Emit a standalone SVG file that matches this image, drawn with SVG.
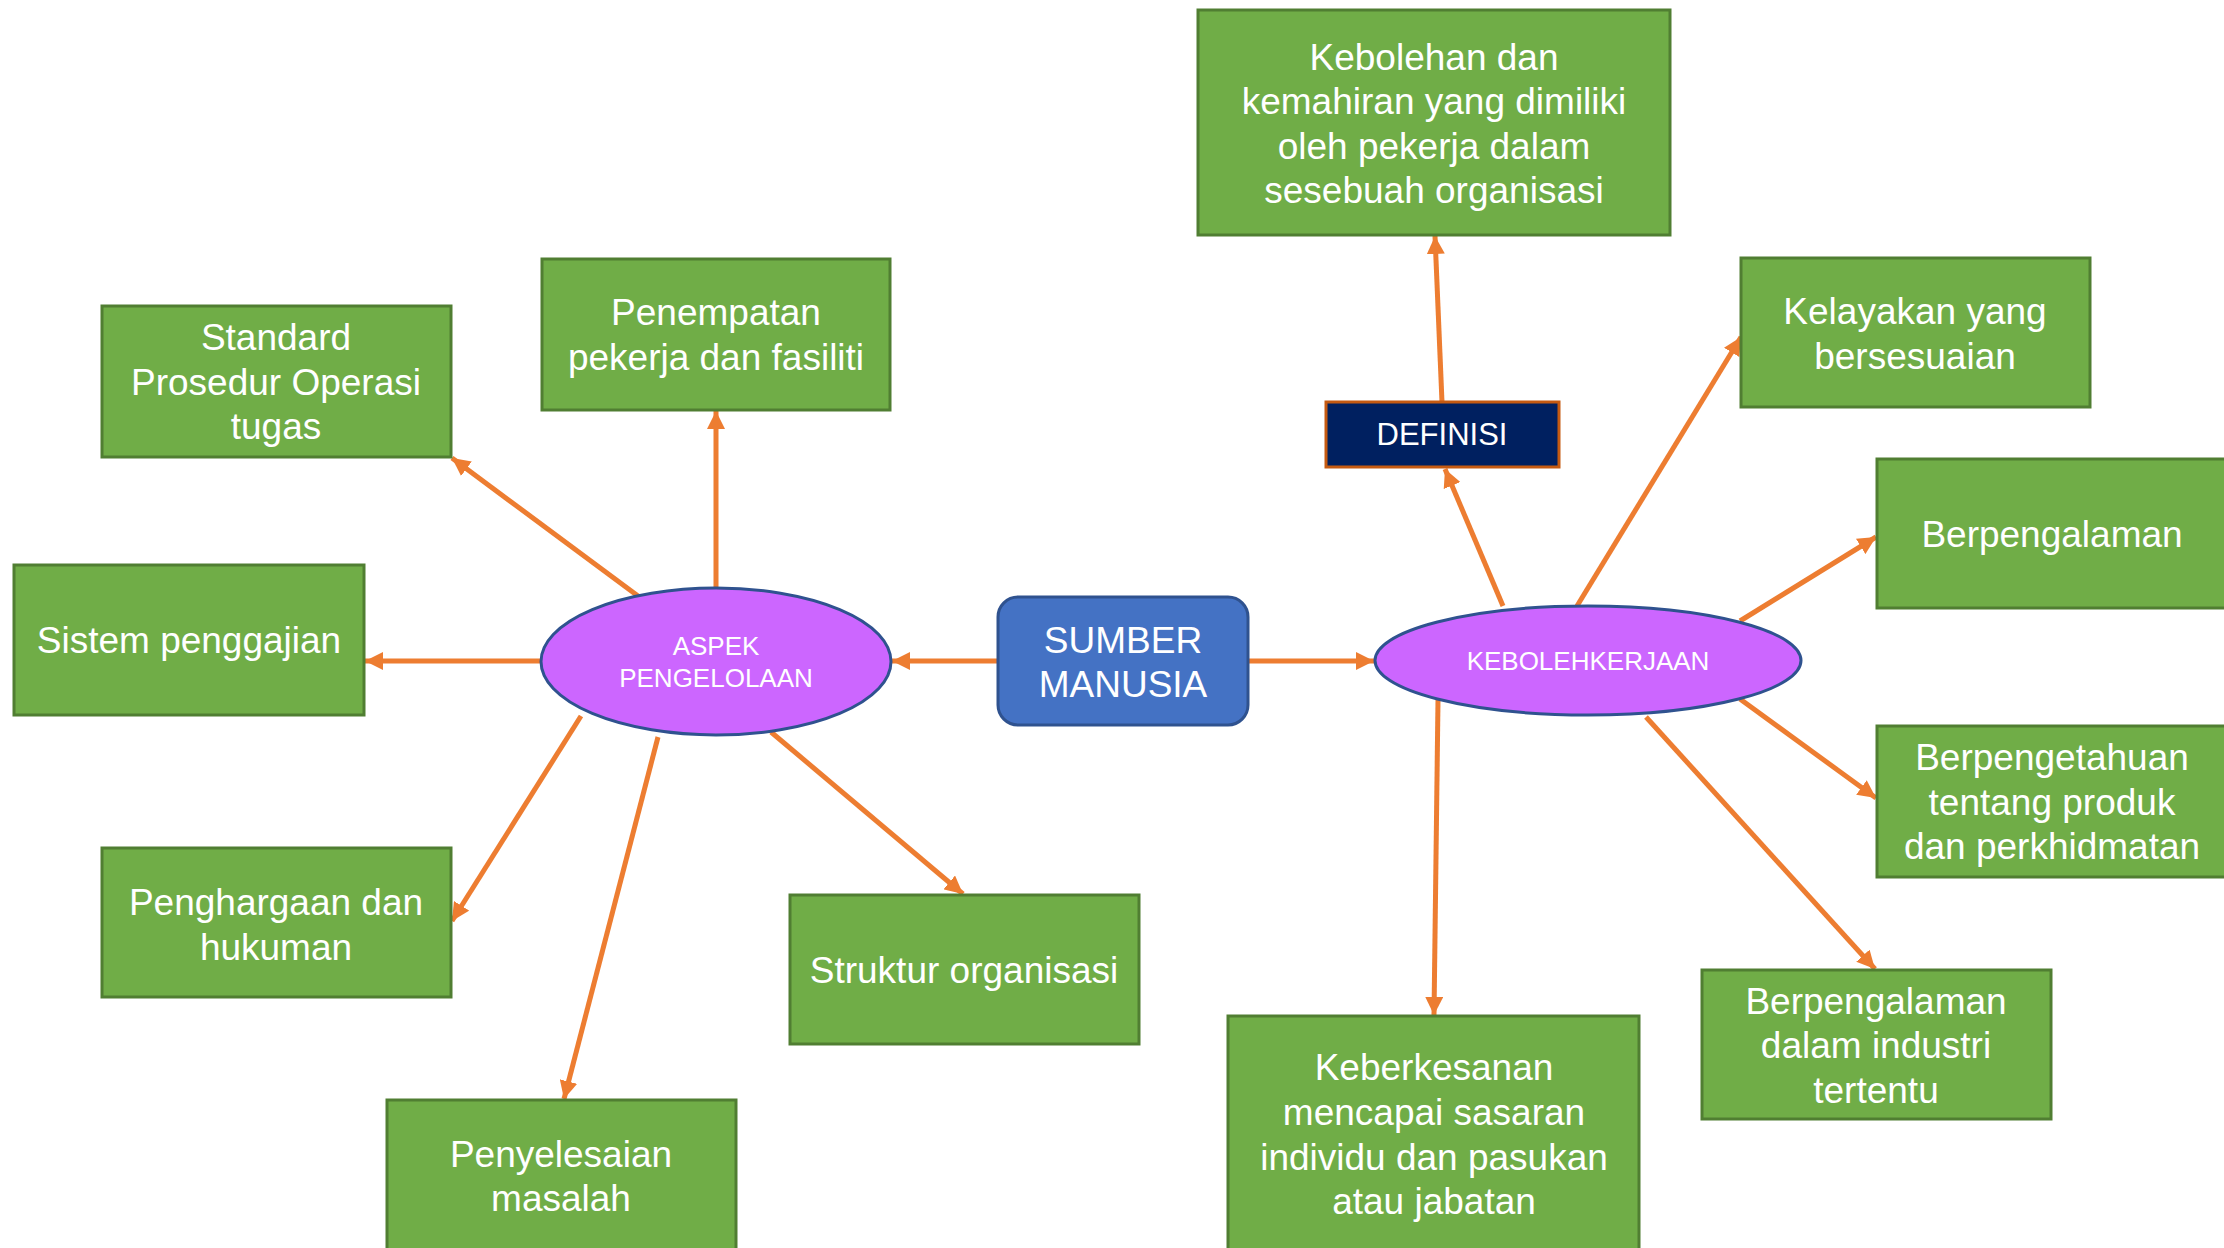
<svg xmlns="http://www.w3.org/2000/svg" width="2224" height="1248" viewBox="0 0 2224 1248">
<style>
text{font-family:"Liberation Sans",Arial,sans-serif;fill:#fff;text-anchor:middle}
.g{fill:#70AD47;stroke:#507E32;stroke-width:3}
.e{fill:#CC66FF;stroke:#2F528F;stroke-width:3}
.t37{font-size:37px}
.t26{font-size:26px}
.c line{stroke:#ED7D31;stroke-width:5;marker-end:url(#ah)}
</style>
<defs>
<marker id="ah" viewBox="0 0 10 10" refX="10" refY="5" markerWidth="3.6" markerHeight="3.6" orient="auto">
<path d="M0,0 L10,5 L0,10 z" fill="#ED7D31"/>
</marker>
</defs>
<rect width="2224" height="1248" fill="#fff"/>
<g class="c" id="connectors">
<line x1="716" y1="588" x2="716" y2="411"/>
<line x1="638" y1="596" x2="452" y2="458"/>
<line x1="541" y1="661" x2="365" y2="661"/>
<line x1="581" y1="716" x2="452" y2="921"/>
<line x1="658" y1="737" x2="564" y2="1099"/>
<line x1="771" y1="732" x2="963" y2="894"/>
<line x1="998" y1="661" x2="892" y2="661"/>
<line x1="1248" y1="661" x2="1374" y2="661"/>
<line x1="1503" y1="606" x2="1445" y2="469"/>
<line x1="1442" y1="402" x2="1435" y2="236"/>
<line x1="1577" y1="606" x2="1741" y2="337"/>
<line x1="1740" y1="621" x2="1876" y2="537"/>
<line x1="1740" y1="699" x2="1876" y2="798"/>
<line x1="1646" y1="717" x2="1875" y2="969"/>
<line x1="1438" y1="700" x2="1434" y2="1015"/>
</g>
<g id="sumber">
<rect x="998" y="597" width="250" height="128" rx="20" fill="#4472C4" stroke="#2F528F" stroke-width="3"/>
<text class="t37" x="1123" y="653">SUMBER</text>
<text class="t37" x="1123" y="697">MANUSIA</text>
</g>
<g id="aspek">
<ellipse class="e" cx="716" cy="661.5" rx="175" ry="73.5"/>
<text class="t26" x="716" y="655">ASPEK</text>
<text class="t26" x="716" y="687">PENGELOLAAN</text>
</g>
<g id="kebolehkerjaan">
<ellipse class="e" cx="1588" cy="660.5" rx="213" ry="54.5"/>
<text class="t26" x="1588" y="670">KEBOLEHKERJAAN</text>
</g>
<g id="definisi">
<rect x="1326" y="402" width="233" height="65" fill="#002060" stroke="#C55A11" stroke-width="3"/>
<text x="1442" y="445" font-size="31px">DEFINISI</text>
</g>
<g id="kebolehan">
<rect class="g" x="1198" y="10" width="472" height="225"/>
<text class="t37" x="1434" y="70">Kebolehan dan</text>
<text class="t37" x="1434" y="114">kemahiran yang dimiliki</text>
<text class="t37" x="1434" y="159">oleh pekerja dalam</text>
<text class="t37" x="1434" y="203">sesebuah organisasi</text>
</g>
<g id="penempatan">
<rect class="g" x="542" y="259" width="348" height="151"/>
<text class="t37" x="716" y="325">Penempatan</text>
<text class="t37" x="716" y="370">pekerja dan fasiliti</text>
</g>
<g id="standard">
<rect class="g" x="102" y="306" width="349" height="151"/>
<text class="t37" x="276" y="350">Standard</text>
<text class="t37" x="276" y="395">Prosedur Operasi</text>
<text class="t37" x="276" y="439">tugas</text>
</g>
<g id="sistem">
<rect class="g" x="14" y="565" width="350" height="150"/>
<text class="t37" x="189" y="653">Sistem penggajian</text>
</g>
<g id="penghargaan">
<rect class="g" x="102" y="848" width="349" height="149"/>
<text class="t37" x="276" y="915">Penghargaan dan</text>
<text class="t37" x="276" y="960">hukuman</text>
</g>
<g id="penyelesaian">
<rect class="g" x="387" y="1100" width="349" height="152"/>
<text class="t37" x="561" y="1167">Penyelesaian</text>
<text class="t37" x="561" y="1211">masalah</text>
</g>
<g id="struktur">
<rect class="g" x="790" y="895" width="349" height="149"/>
<text class="t37" x="964" y="983">Struktur organisasi</text>
</g>
<g id="kelayakan">
<rect class="g" x="1741" y="258" width="349" height="149"/>
<text class="t37" x="1915" y="324">Kelayakan yang</text>
<text class="t37" x="1915" y="369">bersesuaian</text>
</g>
<g id="berpengalaman">
<rect class="g" x="1877" y="459" width="350" height="149"/>
<text class="t37" x="2052" y="547">Berpengalaman</text>
</g>
<g id="berpengetahuan">
<rect class="g" x="1877" y="726" width="350" height="151"/>
<text class="t37" x="2052" y="770">Berpengetahuan</text>
<text class="t37" x="2052" y="815">tentang produk</text>
<text class="t37" x="2052" y="859">dan perkhidmatan</text>
</g>
<g id="industri">
<rect class="g" x="1702" y="970" width="349" height="149"/>
<text class="t37" x="1876" y="1014">Berpengalaman</text>
<text class="t37" x="1876" y="1058">dalam industri</text>
<text class="t37" x="1876" y="1103">tertentu</text>
</g>
<g id="keberkesanan">
<rect class="g" x="1228" y="1016" width="411" height="236"/>
<text class="t37" x="1434" y="1080">Keberkesanan</text>
<text class="t37" x="1434" y="1125">mencapai sasaran</text>
<text class="t37" x="1434" y="1170">individu dan pasukan</text>
<text class="t37" x="1434" y="1214">atau jabatan</text>
</g>
</svg>
